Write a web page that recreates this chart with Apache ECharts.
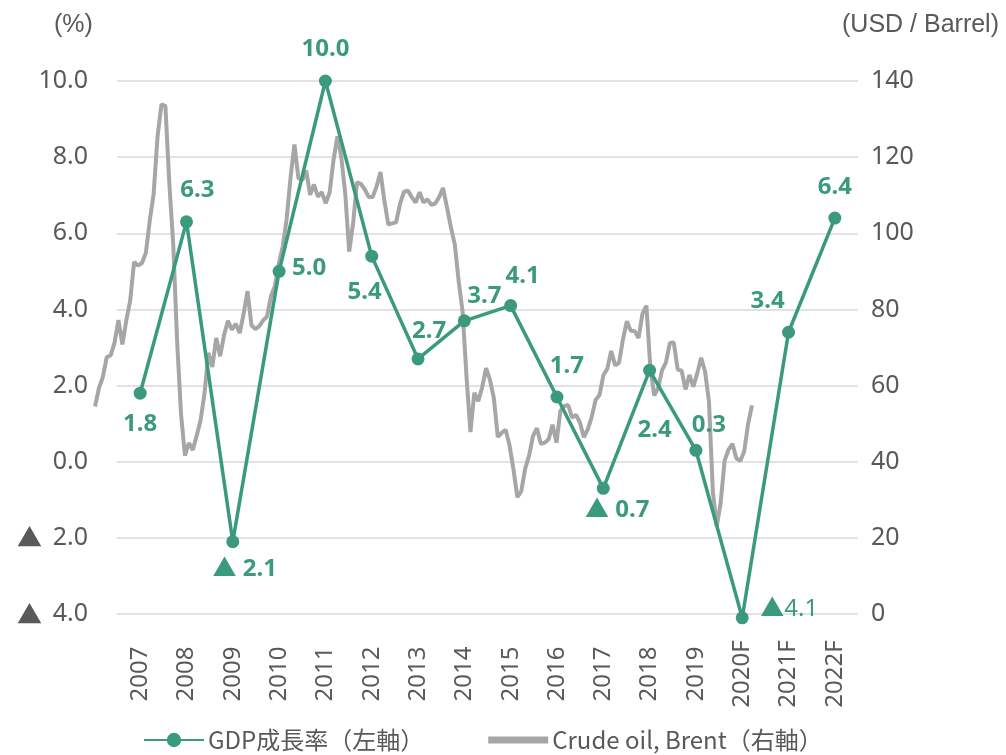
<!DOCTYPE html>
<html>
<head>
<meta charset="utf-8">
<script src="https://cdn.jsdelivr.net/npm/echarts@6/dist/echarts.min.js"></script>
<style>
html, body { margin: 0; padding: 0; background: #fff; }
#main { width: 1006px; height: 755px; }
</style>
</head>
<body>
<div id="main"></div>
<script>
// 年次カテゴリと GDP 成長率 (%)
var years = ['2007', '2008', '2009', '2010', '2011', '2012', '2013', '2014',
             '2015', '2016', '2017', '2018', '2019', '2020F', '2021F', '2022F'];
var gdp = [1.8, 6.3, -2.1, 5.0, 10.0, 5.4, 2.7, 3.7, 4.1, 1.7, -0.7, 2.4, 0.3, -4.1, 3.4, 6.4];

// Brent 月次 (USD / Barrel), 2007/01 - 2021/01
var brent = [
    54.5, 59.3, 62.2, 67.5, 67.9, 71.3, 77.2, 70.8, 77.1, 82.3, 92.5, 91.5,
    92.2, 94.8, 103.3, 110.4, 125.5, 133.9, 133.4, 113.2, 97.2, 71.6, 52.5, 41.6,
    44.9, 43.1, 46.8, 50.9, 57.9, 68.6, 64.9, 72.5, 67.7, 73.2, 77.0, 74.7,
    76.2, 73.8, 78.8, 84.8, 75.9, 74.8, 75.6, 77.1, 78.2, 83.5, 86.1, 92.0,
    96.5, 103.7, 114.6, 123.3, 114.5, 113.9, 116.5, 110.1, 112.8, 109.6, 110.8, 107.9,
    110.7, 119.3, 125.5, 119.8, 110.3, 95.2, 102.6, 113.4, 113.0, 111.5, 109.5, 109.5,
    112.3, 116.1, 108.5, 102.3, 102.6, 102.9, 107.7, 110.9, 111.2, 109.5, 108.1, 110.8,
    108.1, 108.9, 107.5, 107.8, 109.5, 111.9, 106.8, 101.6, 97.1, 87.4, 79.4, 62.3,
    47.8, 58.1, 55.9, 59.5, 64.6, 61.5, 56.6, 46.5, 47.6, 48.4, 44.3, 38.0,
    30.7, 32.2, 38.2, 41.6, 46.7, 48.8, 44.7, 45.0, 45.9, 49.7, 45.0, 53.3,
    54.6, 54.9, 51.6, 52.3, 50.3, 46.4, 48.5, 51.7, 56.2, 57.5, 62.7, 64.4,
    69.1, 65.3, 66.0, 72.1, 76.9, 74.4, 74.3, 72.5, 78.9, 81.0, 64.8, 57.4,
    59.4, 64.0, 66.1, 71.2, 71.3, 64.2, 63.9, 59.0, 62.8, 59.7, 63.2, 67.3,
    63.7, 55.7, 32.0, 23.0, 29.4, 40.3, 43.2, 44.7, 40.9, 40.2, 42.7, 49.9,
    54.8
];

var months = [];
for (var i = 0; i < brent.length; i++) {
    var y = 2007 + Math.floor(i / 12), m = i % 12 + 1;
    months.push(y + '/' + (m < 10 ? '0' + m : m));
}

// ラベル位置 (マーカー中心からのずれ)
var labelOffsets = [[0, 31], [11, -32], [12, 27], [30, -3], [0, -32], [-7, 36], [11, -28], [20, -25],
                    [12, -29], [10, -31], [14, 22], [5, 60], [13, -25], [47, -9], [-21, -31], [0, -31]];

var GREEN = '#3b9a7e';
var GRAY_TXT = '#595959';
var FONT = '"Noto Sans", "Noto Sans CJK JP", sans-serif';

function fmt(v) {
    return v < 0 ? '▲ ' + Math.abs(v).toFixed(1) : v.toFixed(1);
}

var gdpData = gdp.map(function (v, i) {
    var item = {
        value: v,
        label: { offset: labelOffsets[i] }
    };
    if (years[i] === '2020F') {
        item.label.formatter = '▲' + Math.abs(v).toFixed(1);
        item.label.fontWeight = 'normal';
    }
    return item;
});

var myChart = echarts.init(document.getElementById('main'));

var option = {
    animation: false,
    backgroundColor: '#fff',
    title: [
        { text: '(%)', left: 49, top: 8, textStyle: { fontFamily: '"Liberation Sans", Arial', fontSize: 25, fontWeight: 'normal', color: GRAY_TXT } },
        { text: '(USD / Barrel)', right: 2, top: 8, textStyle: { fontFamily: '"Liberation Sans", Arial', fontSize: 25, fontWeight: 'normal', color: GRAY_TXT } }
    ],
    legend: {
        left: 138,
        top: 723,
        itemWidth: 60,
        itemHeight: 18,
        itemGap: 64,
        symbolKeepAspect: true,
        textStyle: { fontFamily: '"Noto Sans CJK JP", sans-serif', fontSize: 24, color: GRAY_TXT, padding: [0, 0, 0, -1] },
        data: [
            { name: 'GDP成長率（左軸）' },
            { name: 'Crude oil, Brent（右軸）', icon: 'path://M0,0L60,0L60,7L0,7Z', itemStyle: { color: '#a6a6a6' } }
        ]
    },
    grid: [
        { left: 117, top: 81, width: 741, height: 533 },
        { left: 95, top: 81, width: 657, height: 533 }
    ],
    xAxis: [
        {
            type: 'category',
            gridIndex: 0,
            data: years,
            axisLine: { show: false },
            axisTick: { show: false },
            axisLabel: {
                rotate: 90,
                align: 'center',
                margin: 60,
                fontFamily: FONT,
                fontSize: 24,
                color: GRAY_TXT
            }
        },
        {
            type: 'category',
            gridIndex: 1,
            data: months,
            boundaryGap: false,
            show: false
        }
    ],
    yAxis: [
        {
            type: 'value',
            gridIndex: 0,
            min: -4,
            max: 10,
            interval: 2,
            axisLine: { show: false },
            axisTick: { show: false },
            splitLine: { lineStyle: { color: '#d9d9d9', width: 1.5 } },
            axisLabel: {
                margin: 29,
                formatter: function (v) {
                    // すべて同じ構成 (記号枠 + 間隔 + 数値枠) にして右端を揃える
                    return '{tri|' + (v < 0 ? '▲' : ' ') + '}{sp| }{m|' + Math.abs(v).toFixed(1) + '}';
                },
                rich: {
                    tri: { fontFamily: '"Noto Sans CJK JP"', fontSize: 25, color: GRAY_TXT, width: 26 },
                    sp: { width: 6 },
                    m: { width: 40, align: 'right', fontFamily: FONT, fontSize: 25, color: GRAY_TXT }
                },
                fontFamily: FONT,
                fontSize: 25,
                color: GRAY_TXT
            }
        },
        {
            type: 'value',
            gridIndex: 0,
            position: 'right',
            min: 0,
            max: 140,
            interval: 20,
            axisLine: { show: false },
            axisTick: { show: false },
            splitLine: { show: false },
            axisLabel: {
                margin: 13,
                fontFamily: FONT,
                fontSize: 25,
                color: GRAY_TXT
            }
        },
        {
            type: 'value',
            gridIndex: 1,
            min: 0,
            max: 140,
            show: false,
            splitLine: { show: false }
        }
    ],
    series: [
        {
            name: 'Crude oil, Brent（右軸）',
            type: 'line',
            xAxisIndex: 1,
            yAxisIndex: 2,
            data: brent,
            symbol: 'none',
            clip: false,
            z: 2,
            lineStyle: { color: '#a6a6a6', width: 4 },
            itemStyle: { color: '#a6a6a6' }
        },
        {
            name: 'GDP成長率（左軸）',
            type: 'line',
            xAxisIndex: 0,
            yAxisIndex: 0,
            data: gdpData,
            symbol: 'circle',
            symbolSize: 13,
            clip: false,
            z: 5,
            lineStyle: { color: GREEN, width: 3.5 },
            itemStyle: { color: GREEN },
            label: {
                show: true,
                position: 'inside',
                formatter: function (p) { return fmt(p.value); },
                fontFamily: FONT,
                fontSize: 24,
                fontWeight: 'bold',
                color: GREEN
            }
        }
    ]
};

myChart.setOption(option);
</script>
</body>
</html>
